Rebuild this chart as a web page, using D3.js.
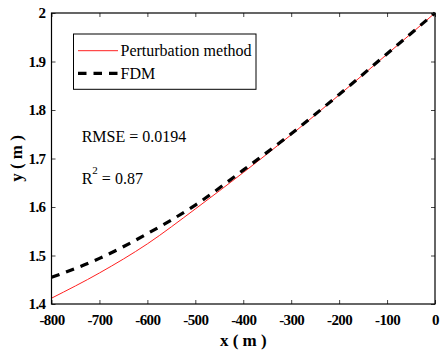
<html>
<head>
  <meta charset="utf-8">
  <script src="https://d3js.org/d3.v7.min.js"></script>
  <style>
    body { margin: 0; background: white; }
    text { font-family: "Liberation Serif", "Times New Roman", serif; }
  </style>
</head>
<body>
  <div id="chart"></div>
  <script>
    // values
    var xs = [-800, -700, -600, -500, -400, -300, -200, -100, 0];
    var perturbation = [1.412, 1.464, 1.524, 1.596, 1.671, 1.749, 1.831, 1.915, 2.0];
    var fdm = [1.455, 1.494, 1.545, 1.604, 1.676, 1.751, 1.832, 1.916, 2.0];
    var xTicks = [-800, -700, -600, -500, -400, -300, -200, -100, 0];
    var yTicks = [1.4, 1.5, 1.6, 1.7, 1.8, 1.9, 2.0];
    var seriesNames = ["Perturbation method", "FDM"];

    var width = 444, height = 356;
    var plotL = 51.5, plotR = 435, plotT = 13, plotB = 304;

    var svg = d3.select("#chart").append("svg")
      .attr("width", width)
      .attr("height", height);

    var x = d3.scaleLinear().domain([-800, 0]).range([plotL, plotR]);
    var y = d3.scaleLinear().domain([1.4, 2.0]).range([plotB, plotT]);

    // curves
    var line = d3.line()
      .x(function(d){ return x(d[0]); })
      .y(function(d){ return y(d[1]); })
      .curve(d3.curveMonotoneX);

    svg.append("path")
      .datum(xs.map(function(v, i){ return [v, perturbation[i]]; }))
      .attr("d", line)
      .attr("fill", "none")
      .attr("stroke", "#ff2020")
      .attr("stroke-width", 1);

    svg.append("path")
      .datum(xs.map(function(v, i){ return [v, fdm[i]]; }))
      .attr("d", line)
      .attr("fill", "none")
      .attr("stroke", "black")
      .attr("stroke-width", 3.2)
      .attr("stroke-dasharray", "8.5,7");

    // axes: ticks inward on all four sides
    var tickLen = 4;
    var fmtX = function(d){ return String(d); };
    var fmtY = function(d){ return d === 2 ? "2" : d.toFixed(1); };

    var gxb = svg.append("g").attr("transform", "translate(0," + plotB + ")")
      .call(d3.axisBottom(x).tickValues(xTicks).tickSizeInner(-tickLen).tickSizeOuter(0).tickPadding(10).tickFormat(fmtX));
    var gxt = svg.append("g").attr("transform", "translate(0," + plotT + ")")
      .call(d3.axisTop(x).tickValues(xTicks).tickSizeInner(-tickLen).tickSizeOuter(0).tickFormat(""));
    var gyl = svg.append("g").attr("transform", "translate(" + plotL + ",0)")
      .call(d3.axisLeft(y).tickValues(yTicks).tickSizeInner(-tickLen).tickSizeOuter(0).tickPadding(6).tickFormat(fmtY));
    var gyr = svg.append("g").attr("transform", "translate(" + plotR + ",0)")
      .call(d3.axisRight(y).tickValues(yTicks).tickSizeInner(-tickLen).tickSizeOuter(0).tickFormat(""));

    [gxb, gxt, gyl, gyr].forEach(function(g){
      g.select(".domain").remove();
      g.selectAll(".tick line").attr("stroke", "#444");
      g.selectAll("text")
        .attr("fill", "black")
        .style("font-family", "'Liberation Serif', serif")
        .style("font-weight", "bold")
        .style("font-size", "15px")
        .style("letter-spacing", "-0.6px");
    });

    // box
    svg.append("rect")
      .attr("x", plotL).attr("y", plotT)
      .attr("width", plotR - plotL).attr("height", plotB - plotT)
      .attr("fill", "none").attr("stroke", "black").attr("stroke-width", 1.2);

    // axis titles
    svg.append("text")
      .attr("x", (plotL + plotR) / 2).attr("y", 346)
      .attr("text-anchor", "middle")
      .style("font-weight", "bold").style("font-size", "17px")
      .text("x ( m )");

    svg.append("text")
      .attr("transform", "translate(22," + ((plotT + plotB) / 2) + ") rotate(-90)")
      .attr("text-anchor", "middle")
      .style("font-weight", "bold").style("font-size", "17px")
      .text("y ( m )");

    // legend
    var leg = svg.append("g");
    leg.append("rect")
      .attr("x", 73.5).attr("y", 34).attr("width", 182.5).attr("height", 55.3)
      .attr("fill", "white").attr("stroke", "black").attr("stroke-width", 1);
    leg.append("line")
      .attr("x1", 78).attr("x2", 118).attr("y1", 50.7).attr("y2", 50.7)
      .attr("stroke", "#ff2020").attr("stroke-width", 1);
    leg.append("line")
      .attr("x1", 78).attr("x2", 118).attr("y1", 73.3).attr("y2", 73.3)
      .attr("stroke", "black").attr("stroke-width", 3.2)
      .attr("stroke-dasharray", "8.5,7");
    leg.selectAll("text.lab")
      .data(seriesNames)
      .enter().append("text")
      .attr("class", "lab")
      .attr("x", 120.5)
      .attr("y", function(d, i){ return i === 0 ? 56 : 78.5; })
      .style("font-size", "16px")
      .text(function(d){ return d; });

    // annotations
    svg.append("text")
      .attr("x", 81.7).attr("y", 141.7)
      .style("font-size", "16px")
      .text("RMSE = 0.0194");

    var r2 = svg.append("text")
      .attr("x", 81.7).attr("y", 184)
      .style("font-size", "16px");
    r2.append("tspan").text("R");
    r2.append("tspan").attr("dy", -10).style("font-size", "11px").text("2");
    r2.append("tspan").attr("dy", 10).text(" = 0.87");
  </script>
</body>
</html>
